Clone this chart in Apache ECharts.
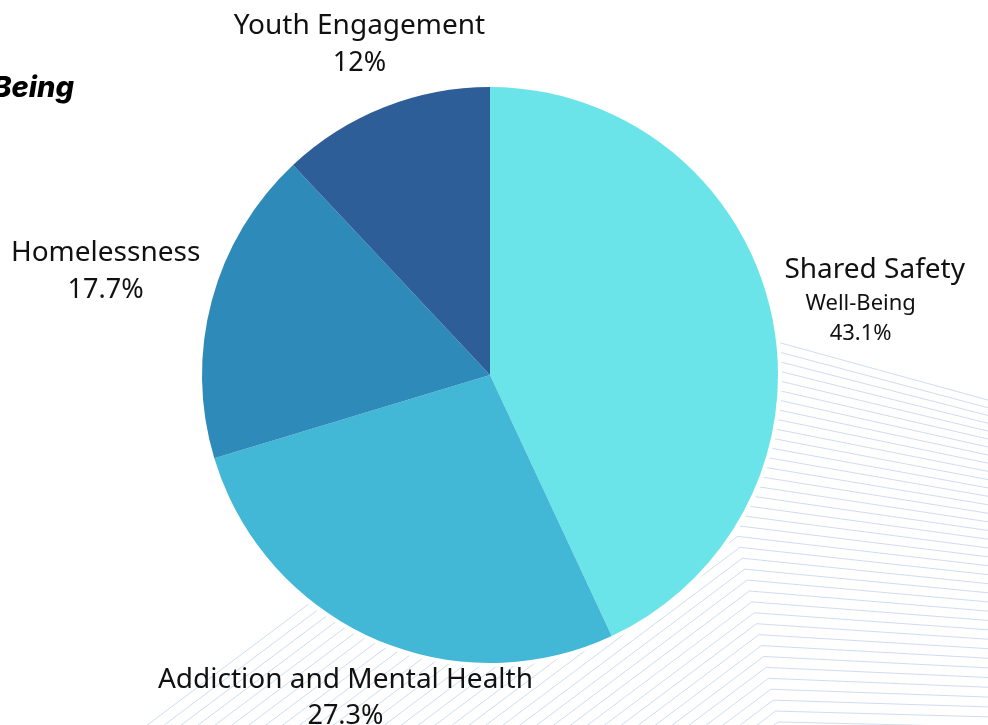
<!DOCTYPE html>
<html>
<head>
<meta charset="utf-8">
<script src="https://cdn.jsdelivr.net/npm/echarts@6/dist/echarts.min.js"></script>
<style>
  html, body { margin: 0; padding: 0; background: #ffffff; }
  #chart { width: 988px; height: 725px; }
</style>
</head>
<body>
<div id="chart"></div>
<script>
// ---- data ----
const categories = ['Shared Safety Well-Being', 'Addiction and Mental Health', 'Homelessness', 'Youth Engagement'];
const values = [43.1, 27.3, 17.7, 12];
const colors = ['#6AE4E8', '#42B7D6', '#2E8AB9', '#2E5E98'];
const titleText = 'Well-Being';

// ---- layout config (not data) ----
const CX = 490, CY = 375, R = 288;
const labelRadius = [394, 354, 398, 355];
const labelDy = [10, 0, 0, 0];

const total = values.reduce((a, b) => a + b, 0);
const midAngles = [];
(function () {
  let acc = 0;
  values.forEach(v => { midAngles.push((acc + v / 2) / total * Math.PI * 2); acc += v; });
})();

// decorative background hatch lines
const hatch = [];
(function () {
  const N = 38, k = 0.75;
  for (let i = 0; i < N; i++) {
    const u = i / (N - 1);
    const by = 318 + 404 * u;
    const bx = 690 + 88 * u;
    const ey = 402 + 280 * u + 45 * u * u;
    const y0 = 760;
    const x0 = bx - (y0 - by) / k;
    hatch.push({
      type: 'polyline',
      silent: true,
      z: 0,
      shape: { points: [[x0, y0], [bx, by], [995, ey]] },
      style: { stroke: 'rgba(175,196,230,0.6)', lineWidth: 1, fill: null }
    });
  }
})();

const chart = echarts.init(document.getElementById('chart'), null, { renderer: 'canvas' });

const fontFamily = '"Noto Sans", "Open Sans", sans-serif';

const option = {
  backgroundColor: '#ffffff',
  animation: false,
  graphic: hatch.concat([
    {
      type: 'text',
      silent: true,
      z: 5,
      style: {
        text: titleText,
        x: 74, y: 88,
        align: 'right', verticalAlign: 'middle',
        font: 'italic 800 29px Inter, "Noto Sans", sans-serif',
        fill: '#000000'
      }
    }
  ]),
  series: [
    {
      // white halo behind the pie
      type: 'pie',
      silent: true,
      z: 1,
      center: [CX, CY],
      radius: R + 4,
      label: { show: false },
      labelLine: { show: false },
      itemStyle: { color: '#ffffff' },
      data: [{ value: 1, name: '' }]
    },
    {
      type: 'pie',
      z: 2,
      center: [CX, CY],
      radius: R,
      startAngle: 90,
      clockwise: true,
      avoidLabelOverlap: false,
      data: categories.map((c, i) => ({ name: c, value: values[i], itemStyle: { color: colors[i] } })),
      itemStyle: { borderWidth: 0 },
      labelLine: { show: false },
      label: {
        show: true,
        position: 'outside',
        color: '#111111',
        fontFamily: fontFamily,
        formatter: function (p) {
          if (p.dataIndex === 0) {
            return '{n|Shared Safety}\n{s|Well-Being}\n{s|' + p.value + '%}';
          }
          return '{n|' + p.name + '}\n{p|' + p.value + '%}';
        },
        rich: {
          n: { fontSize: 28, lineHeight: 37, fontFamily: fontFamily, color: '#111111', align: 'center' },
          p: { fontSize: 27, lineHeight: 37, fontFamily: fontFamily, color: '#111111', align: 'center' },
          s: { fontSize: 22, lineHeight: 30, fontFamily: fontFamily, color: '#111111', align: 'center', padding: [0, 28, 0, 0] }
        }
      },
      labelLayout: function (params) {
        const i = params.dataIndex;
        const a = midAngles[i];
        const r = labelRadius[i];
        return {
          x: CX + r * Math.sin(a),
          y: CY - r * Math.cos(a) + labelDy[i],
          align: 'center',
          verticalAlign: 'middle'
        };
      },
      emphasis: { disabled: true }
    }
  ]
};

chart.setOption(option);
</script>
</body>
</html>
